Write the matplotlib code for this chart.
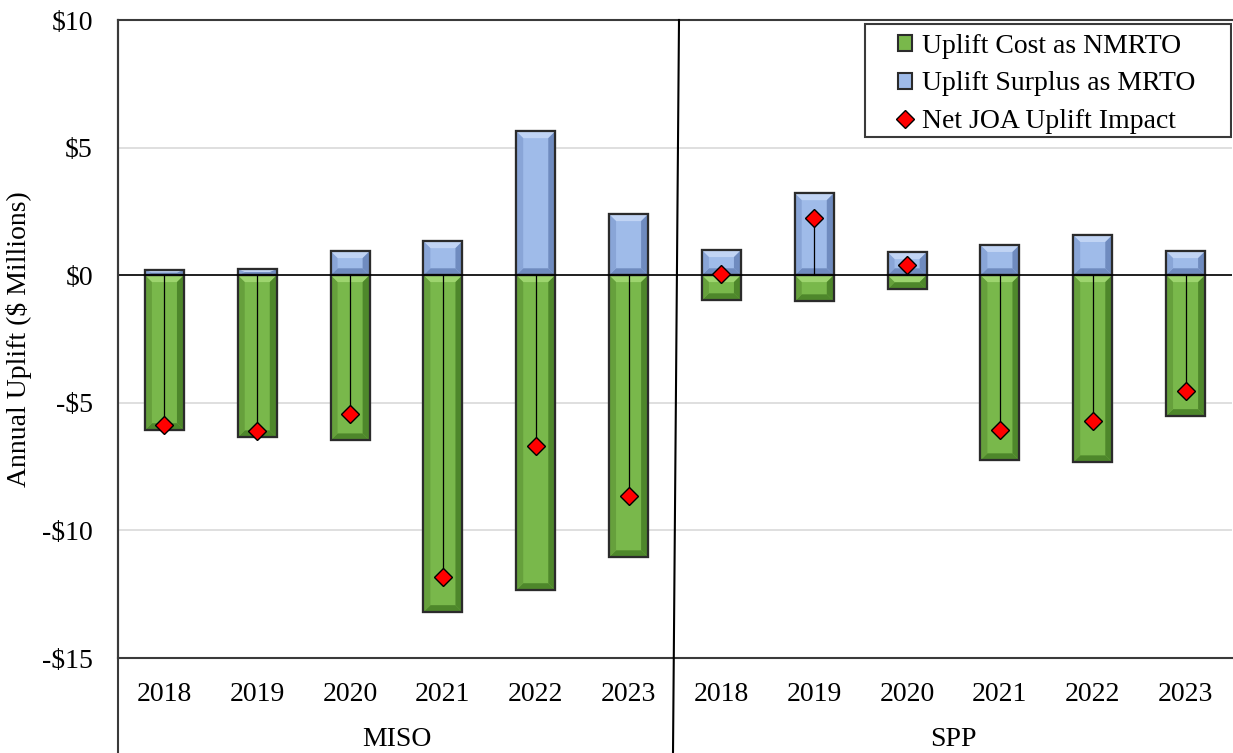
import numpy as np
import matplotlib.pyplot as plt
from matplotlib.patches import Polygon, Rectangle
from matplotlib.lines import Line2D

plt.rcParams['font.family'] = ['Liberation Serif', 'DejaVu Serif']

# Datos ($ millones)
grupos = ['MISO', 'SPP']
anios = ['2018', '2019', '2020', '2021', '2022', '2023']
costo_nmrto = [-6.07, -6.35, -6.47, -13.2, -12.34, -11.05,
               -0.98, -1.02, -0.55, -7.25, -7.33, -5.52]
superavit_mrto = [0.2, 0.24, 0.94, 1.33, 5.64, 2.39,
                  0.98, 3.21, 0.9, 1.18, 1.57, 0.94]
impacto_neto = [-5.88, -6.11, -5.45, -11.83, -6.7, -8.66,
                0.04, 2.23, 0.39, -6.07, -5.72, -4.55]

W, H = 1233, 753
fig = plt.figure(figsize=(W / 100, H / 100), dpi=100)
ax = fig.add_axes([118 / W, (H - 658) / H, (1232 - 118) / W, (658 - 20) / H])

x = np.arange(len(costo_nmrto))
ancho = 0.42


def barras_bisel(valores, caras, borde):
    barras = ax.bar(x, valores, ancho, color=caras[0],
                    edgecolor=borde, linewidth=1.5, zorder=3)
    for b in barras:
        x0, x1 = b.get_x(), b.get_x() + b.get_width()
        y0 = min(b.get_y(), b.get_y() + b.get_height())
        y1 = max(b.get_y(), b.get_y() + b.get_height())
        dx = 0.075
        dy = min(0.27, (y1 - y0) / 2)
        lados = [
            ([(x0, y1), (x1, y1), (x1 - dx, y1 - dy), (x0 + dx, y1 - dy)], caras[1]),
            ([(x0, y0), (x1, y0), (x1 - dx, y0 + dy), (x0 + dx, y0 + dy)], caras[3]),
            ([(x0, y0), (x0, y1), (x0 + dx, y1 - dy), (x0 + dx, y0 + dy)], caras[2]),
            ([(x1, y0), (x1, y1), (x1 - dx, y1 - dy), (x1 - dx, y0 + dy)], caras[3]),
        ]
        for pts, c in lados:
            ax.add_patch(Polygon(pts, closed=True, facecolor=c, edgecolor='none', zorder=3.5))
        ax.add_patch(Rectangle((x0, y0), x1 - x0, y1 - y0, fill=False,
                               edgecolor=borde, linewidth=1.6, zorder=3.6))


verdes = ['#79b84b', '#9dd46e', '#66a03c', '#4e872b']
azules = ['#9fbbe9', '#c1d4f4', '#89a5d7', '#6f8bbf']
barras_bisel(costo_nmrto, verdes, '#2b2b2b')
barras_bisel(superavit_mrto, azules, '#2b2b2b')

# lineas desde cero hasta el impacto neto
ax.vlines(x, 0, impacto_neto, color='black', linewidth=0.9, zorder=4)
ax.plot(x, impacto_neto, linestyle='none', marker='D', markersize=9,
        markerfacecolor='#ff0000', markeredgecolor='black', markeredgewidth=1.0, zorder=5)

ax.axhline(0, color='black', linewidth=1.2, zorder=4)
ax.set_ylim(-15, 10)
ax.set_xlim(-0.5, len(x) - 0.5)
ax.set_yticks(np.arange(-15, 11, 5))
ax.set_yticklabels(['-$15', '-$10', '-$5', '$0', '$5', '$10'])
ax.yaxis.grid(True, color='#d9d9d9', linewidth=1.2, zorder=0)
ax.set_axisbelow(True)
ax.tick_params(axis='y', length=0, pad=18, labelsize=20)
ax.set_xticks(x)
ax.set_xticklabels(anios * 2)
ax.tick_params(axis='x', length=0, pad=17, labelsize=20)
for s in ['top', 'bottom', 'left']:
    ax.spines[s].set_color('#3a3a3a')
    ax.spines[s].set_linewidth(1.5)
ax.spines['right'].set_visible(False)

ax.set_ylabel('Annual Uplift ($ Millions)', fontsize=20, labelpad=7)

# etiquetas de grupo y separadores
for i, g in enumerate(grupos):
    fig.text((118 + (i + 0.5) * (1232 - 118) / 2) / W, 1 - 740 / H, g,
             ha='center', va='center', fontsize=20)
fig.add_artist(Line2D([118 / W, 118 / W], [0, 1 - 20 / H], color='#3a3a3a', linewidth=1.5))
fig.add_artist(Line2D([679 / W, 673 / W], [1 - 20 / H, 0], color='black', linewidth=1.5))

# leyenda con marco propio (mas relleno horizontal)
ax.add_patch(Rectangle((0.6706, 0.8166), 1.0 - 0.6706 - 0.001, 0.9937 - 0.8166,
                       transform=ax.transAxes, facecolor='white', edgecolor='#3a3a3a',
                       linewidth=1.5, zorder=6))
leyenda = [
    Rectangle((0, 0), 1, 1, facecolor=verdes[0], edgecolor='#2b2b2b', linewidth=1.5),
    Rectangle((0, 0), 1, 1, facecolor=azules[0], edgecolor='#2b2b2b', linewidth=1.5),
    Line2D([], [], linestyle='none', marker='D', markersize=9,
           markerfacecolor='#ff0000', markeredgecolor='black'),
]
leg = ax.legend(leyenda, ['Uplift Cost as NMRTO', 'Uplift Surplus as MRTO', 'Net JOA Uplift Impact'],
                loc='upper left', bbox_to_anchor=((898 - 118) / 1114, (658 - 34) / 638),
                fontsize=20, frameon=False, handlelength=0.52, handleheight=0.52,
                handletextpad=0.33, borderpad=0, labelspacing=0.45, borderaxespad=0)
leg.set_zorder(7)

fig.savefig('out.png', dpi=100)
